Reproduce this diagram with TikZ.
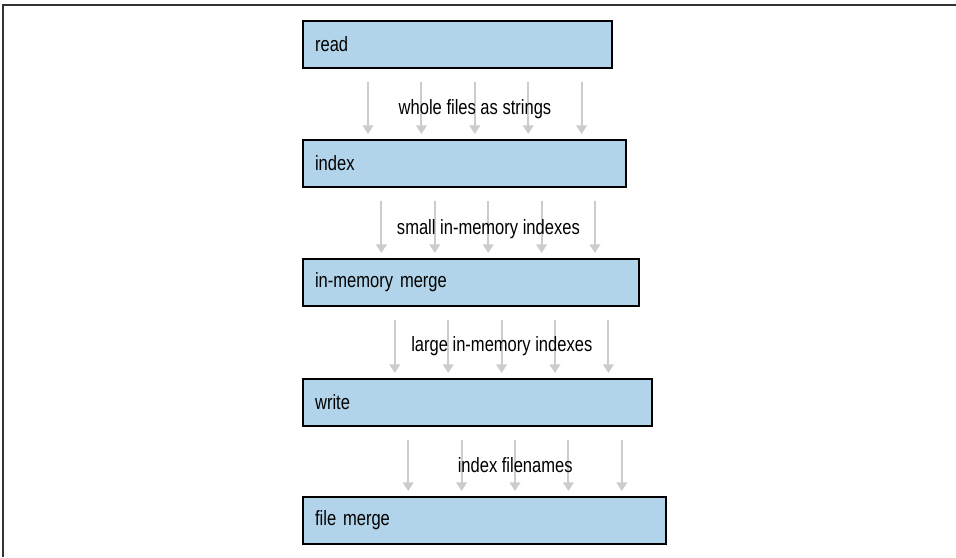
\documentclass[tikz,border=0pt]{standalone}
\usepackage{fontspec}
\setmainfont{Liberation Sans}[FakeStretch=0.80]
\usetikzlibrary{arrows.meta,calc}
\definecolor{stageblue}{RGB}{178,212,234}
\definecolor{flowgray}{RGB}{204,204,204}

\begin{document}
\begin{tikzpicture}[x=0.75pt,y=-0.75pt,
  stage/.style={draw=black,line width=1.6pt,fill=stageblue,anchor=north west,
    minimum height=35.25pt,inner xsep=9pt,inner ysep=0pt,align=left,
    font=\fontsize{15.5}{17}\selectfont},
  flow/.style={draw=flowgray,line width=1.5pt,-{Triangle[width=8pt,length=6.5pt]}},
  flowlabel/.style={anchor=base,inner sep=0pt,font=\fontsize{15.5}{17}\selectfont}]
\useasboundingbox (0,0) rectangle (956,557);
\draw[line width=1.2pt,draw=black!80] (3,557) -- (3,5) -- (956,5);

\node[stage,text width=213.75pt] (read) at (302,20) {read};
\node[stage,text width=224.25pt] (index) at (302,139) {index};
\node[stage,text width=234pt] (merge) at (302,258) {in-memory merge};
\node[stage,text width=243.75pt] (write) at (302,378) {write};
\node[stage,text width=254.25pt] (filemerge) at (302,496) {file merge};

\foreach \up/\dn/\k in {read/index/0,index/merge/1,merge/write/2,write/filemerge/3}
  \foreach \j in {0,...,4}
    \draw[flow] ($(\up.south west)+(66+13.4*\k+53.4*\j,13)$) -- ($(\dn.north west)+(66+13.4*\k+53.4*\j,-5)$);

\node[flowlabel] (strings) at (475,114) {whole files as strings};
\node[flowlabel] (small) at (488.4,234) {small in-memory indexes};
\node[flowlabel] (large) at (501.8,351) {large in-memory indexes};
\node[flowlabel] (names) at (515.2,472) {index filenames};
\end{tikzpicture}
\end{document}
